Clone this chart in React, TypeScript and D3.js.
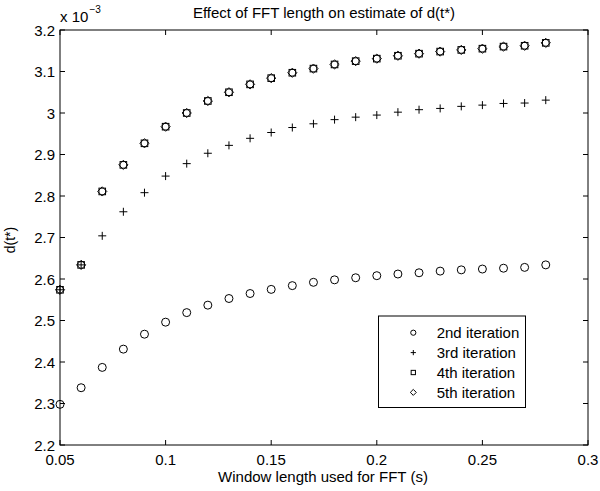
import React from "react";
import * as d3 from "d3";

const windowLengths = [0.05,0.06,0.07,0.08,0.09,0.10,0.11,0.12,0.13,0.14,0.15,0.16,0.17,0.18,0.19,0.20,0.21,0.22,0.23,0.24,0.25,0.26,0.27,0.28];
const iter2 = [2.298,2.338,2.387,2.431,2.467,2.496,2.519,2.537,2.553,2.565,2.575,2.584,2.592,2.598,2.603,2.608,2.612,2.615,2.619,2.622,2.624,2.626,2.628,2.634];
const iter3 = [2.574,2.634,2.704,2.762,2.808,2.848,2.878,2.903,2.922,2.939,2.953,2.965,2.974,2.984,2.990,2.995,3.002,3.008,3.011,3.016,3.019,3.023,3.024,3.031];
const iter4 = [2.574,2.634,2.811,2.875,2.927,2.967,3.000,3.029,3.050,3.069,3.084,3.097,3.107,3.117,3.125,3.131,3.138,3.143,3.148,3.152,3.155,3.160,3.162,3.169];
const iter5 = [2.574,2.634,2.811,2.875,2.927,2.967,3.000,3.029,3.050,3.069,3.084,3.097,3.107,3.117,3.125,3.131,3.138,3.143,3.148,3.152,3.155,3.160,3.162,3.169];
const xTicks = [0.05,0.1,0.15,0.2,0.25,0.3];
const xTickLabels = ["0.05","0.1","0.15","0.2","0.25","0.3"];
const yTicks = [2.2,2.3,2.4,2.5,2.6,2.7,2.8,2.9,3.0,3.1,3.2];
const yTickLabels = ["2.2","2.3","2.4","2.5","2.6","2.7","2.8","2.9","3","3.1","3.2"];
const legendLabels = ["2nd iteration","3rd iteration","4th iteration","5th iteration"];

const FONT = "'Liberation Sans', Arial, Helvetica, sans-serif";

function Marker({ kind, x, y, s = 1 }: { kind: string; x: number; y: number; s?: number }) {
  const st = { fill: "none", stroke: "#000", strokeWidth: 1 } as const;
  if (kind === "circle") return <circle cx={x} cy={y} r={4 * s} {...st} />;
  if (kind === "plus")
    return <path d={`M${x - 4 * s},${y}H${x + 4 * s}M${x},${y - 4 * s}V${y + 4 * s}`} {...st} />;
  if (kind === "square")
    return <rect x={x - 3.3 * s} y={y - 3.3 * s} width={6.6 * s} height={6.6 * s} {...st} />;
  return <path d={`M${x},${y - 4.6 * s}L${x + 4.6 * s},${y}L${x},${y + 4.6 * s}L${x - 4.6 * s},${y}Z`} {...st} />;
}

export default function App() {
  const L = 60, R = 588, T = 30, B = 445;
  const x = d3.scaleLinear().domain([0.05, 0.3]).range([L, R]);
  const y = d3.scaleLinear().domain([2.2, 3.2]).range([B, T]);
  const series = [
    { kind: "circle", vals: iter2 },
    { kind: "plus", vals: iter3 },
    { kind: "square", vals: iter4 },
    { kind: "diamond", vals: iter5 },
  ];
  const tl = 5;
  return (
    <svg width={600} height={491} style={{ position: "absolute", left: 0, top: 0, background: "#fff" }} fontFamily={FONT}>
      <rect x={0} y={0} width={600} height={491} fill="#fff" />
      <rect x={L} y={T} width={R - L} height={B - T} fill="#fff" stroke="#000" strokeWidth={1} />
      {xTicks.map((t, i) => (
        <g key={"x" + i}>
          <line x1={x(t)} x2={x(t)} y1={B} y2={B - tl} stroke="#000" />
          <line x1={x(t)} x2={x(t)} y1={T} y2={T + tl} stroke="#000" />
          <text x={x(t)} y={465} fontSize={15} textAnchor="middle" fill="#000">{xTickLabels[i]}</text>
        </g>
      ))}
      {yTicks.map((t, i) => (
        <g key={"y" + i}>
          <line x1={L} x2={L + tl} y1={y(t)} y2={y(t)} stroke="#000" />
          <line x1={R} x2={R - tl} y1={y(t)} y2={y(t)} stroke="#000" />
          <text x={55} y={y(t) + 5.5} fontSize={15} textAnchor="end" fill="#000">{yTickLabels[i]}</text>
        </g>
      ))}
      {series.map((s) =>
        s.vals.map((v, i) => <Marker key={s.kind + i} kind={s.kind} x={x(windowLengths[i])} y={y(v)} />)
      )}
      <text x={324} y={18} fontSize={15} textAnchor="middle" fill="#000">Effect of FFT length on estimate of d(t*)</text>
      <text x={323} y={482} fontSize={15} textAnchor="middle" fill="#000">Window length used for FFT (s)</text>
      <text transform={`translate(15,240) rotate(-90)`} fontSize={14} textAnchor="middle" fill="#000">d(t*)</text>
      <text x={60} y={22} fontSize={15} fill="#000">x 10</text>
      <text x={89.5} y={13} fontSize={10} fill="#000">−3</text>
      <g>
        <rect x={378.5} y={316} width={147} height={91.5} fill="#fff" stroke="#000" strokeWidth={1} />
        {legendLabels.map((lab, i) => {
          const cy = 332.7 + i * 19.9;
          return (
            <g key={lab}>
              <Marker kind={series[i].kind} x={413.3} y={cy} s={0.65} />
              <text x={436.7} y={cy + 5.3} fontSize={15} fill="#000">{lab}</text>
            </g>
          );
        })}
      </g>
    </svg>
  );
}
